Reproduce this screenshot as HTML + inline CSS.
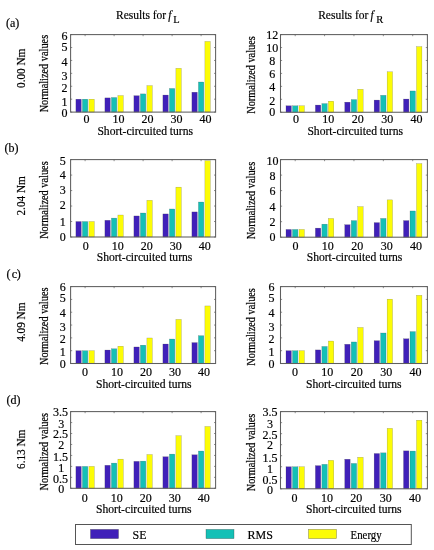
<!DOCTYPE html>
<html><head><meta charset="utf-8"><style>
html,body{margin:0;padding:0;background:#fff;}
body{width:434px;height:550px;overflow:hidden;}
svg{display:block;will-change:transform;}
text{font-family:"Liberation Serif", serif;fill:#000;stroke:#000;stroke-width:0.18px;}
.tk{font-size:12px;}
.xl{font-size:11.6px;}
.yl{font-size:11px;}
.rl{font-size:12px;}
.tq{font-size:12px;}
.ti{font-size:11.5px;}
.lg{font-size:12px;}
</style></head><body>
<svg width="434" height="550" viewBox="0 0 434 550">
<rect width="434" height="550" fill="#fff"/>
<line x1="85.10" y1="112.1" x2="85.10" y2="110.5" stroke="#5e5e5e" stroke-width="0.7"/>
<line x1="114.10" y1="112.1" x2="114.10" y2="110.5" stroke="#5e5e5e" stroke-width="0.7"/>
<line x1="143.10" y1="112.1" x2="143.10" y2="110.5" stroke="#5e5e5e" stroke-width="0.7"/>
<line x1="172.10" y1="112.1" x2="172.10" y2="110.5" stroke="#5e5e5e" stroke-width="0.7"/>
<line x1="201.10" y1="112.1" x2="201.10" y2="110.5" stroke="#5e5e5e" stroke-width="0.7"/>
<rect x="75.90" y="99.18" width="5.4" height="12.92" fill="#4020b9" stroke="#333" stroke-width="0.35" stroke-opacity="0.5"/>
<rect x="82.40" y="99.18" width="5.4" height="12.92" fill="#14c0b6" stroke="#333" stroke-width="0.35" stroke-opacity="0.5"/>
<rect x="88.90" y="99.18" width="5.4" height="12.92" fill="#fcfc06" stroke="#333" stroke-width="0.35" stroke-opacity="0.5"/>
<rect x="104.90" y="97.89" width="5.4" height="14.21" fill="#4020b9" stroke="#333" stroke-width="0.35" stroke-opacity="0.5"/>
<rect x="111.40" y="97.50" width="5.4" height="14.60" fill="#14c0b6" stroke="#333" stroke-width="0.35" stroke-opacity="0.5"/>
<rect x="117.90" y="95.57" width="5.4" height="16.53" fill="#fcfc06" stroke="#333" stroke-width="0.35" stroke-opacity="0.5"/>
<rect x="133.90" y="95.70" width="5.4" height="16.40" fill="#4020b9" stroke="#333" stroke-width="0.35" stroke-opacity="0.5"/>
<rect x="140.40" y="93.89" width="5.4" height="18.21" fill="#14c0b6" stroke="#333" stroke-width="0.35" stroke-opacity="0.5"/>
<rect x="146.90" y="85.62" width="5.4" height="26.48" fill="#fcfc06" stroke="#333" stroke-width="0.35" stroke-opacity="0.5"/>
<rect x="162.90" y="95.05" width="5.4" height="17.05" fill="#4020b9" stroke="#333" stroke-width="0.35" stroke-opacity="0.5"/>
<rect x="169.40" y="88.46" width="5.4" height="23.64" fill="#14c0b6" stroke="#333" stroke-width="0.35" stroke-opacity="0.5"/>
<rect x="175.90" y="68.31" width="5.4" height="43.79" fill="#fcfc06" stroke="#333" stroke-width="0.35" stroke-opacity="0.5"/>
<rect x="191.90" y="92.21" width="5.4" height="19.89" fill="#4020b9" stroke="#333" stroke-width="0.35" stroke-opacity="0.5"/>
<rect x="198.40" y="82.00" width="5.4" height="30.10" fill="#14c0b6" stroke="#333" stroke-width="0.35" stroke-opacity="0.5"/>
<rect x="204.90" y="41.45" width="5.4" height="70.65" fill="#fcfc06" stroke="#333" stroke-width="0.35" stroke-opacity="0.5"/>
<rect x="70.6" y="34.6" width="145.00" height="77.50" fill="none" stroke="#5e5e5e" stroke-width="1.05"/>
<line x1="70.6" y1="112.10" x2="72.19999999999999" y2="112.10" stroke="#5e5e5e" stroke-width="0.7"/>
<line x1="215.6" y1="112.10" x2="214.0" y2="112.10" stroke="#5e5e5e" stroke-width="0.7"/>
<text x="64.50" y="117.05" class="tk" text-anchor="middle">0</text>
<line x1="70.6" y1="99.18" x2="72.19999999999999" y2="99.18" stroke="#5e5e5e" stroke-width="0.7"/>
<line x1="215.6" y1="99.18" x2="214.0" y2="99.18" stroke="#5e5e5e" stroke-width="0.7"/>
<text x="64.50" y="105.98" class="tk" text-anchor="middle">1</text>
<line x1="70.6" y1="86.27" x2="72.19999999999999" y2="86.27" stroke="#5e5e5e" stroke-width="0.7"/>
<line x1="215.6" y1="86.27" x2="214.0" y2="86.27" stroke="#5e5e5e" stroke-width="0.7"/>
<text x="64.50" y="91.77" class="tk" text-anchor="middle">2</text>
<line x1="70.6" y1="73.35" x2="72.19999999999999" y2="73.35" stroke="#5e5e5e" stroke-width="0.7"/>
<line x1="215.6" y1="73.35" x2="214.0" y2="73.35" stroke="#5e5e5e" stroke-width="0.7"/>
<text x="64.50" y="80.35" class="tk" text-anchor="middle">3</text>
<line x1="70.6" y1="60.43" x2="72.19999999999999" y2="60.43" stroke="#5e5e5e" stroke-width="0.7"/>
<line x1="215.6" y1="60.43" x2="214.0" y2="60.43" stroke="#5e5e5e" stroke-width="0.7"/>
<text x="64.50" y="66.33" class="tk" text-anchor="middle">4</text>
<line x1="70.6" y1="47.52" x2="72.19999999999999" y2="47.52" stroke="#5e5e5e" stroke-width="0.7"/>
<line x1="215.6" y1="47.52" x2="214.0" y2="47.52" stroke="#5e5e5e" stroke-width="0.7"/>
<text x="64.50" y="51.42" class="tk" text-anchor="middle">5</text>
<line x1="70.6" y1="34.60" x2="72.19999999999999" y2="34.60" stroke="#5e5e5e" stroke-width="0.7"/>
<line x1="215.6" y1="34.60" x2="214.0" y2="34.60" stroke="#5e5e5e" stroke-width="0.7"/>
<text x="64.50" y="40.40" class="tk" text-anchor="middle">6</text>
<line x1="85.10" y1="34.6" x2="85.10" y2="36.2" stroke="#5e5e5e" stroke-width="0.7"/>
<text x="83.40" y="123.20" class="tk">0</text>
<line x1="114.10" y1="34.6" x2="114.10" y2="36.2" stroke="#5e5e5e" stroke-width="0.7"/>
<text x="112.40" y="123.20" class="tk">10</text>
<line x1="143.10" y1="34.6" x2="143.10" y2="36.2" stroke="#5e5e5e" stroke-width="0.7"/>
<text x="141.40" y="123.20" class="tk">20</text>
<line x1="172.10" y1="34.6" x2="172.10" y2="36.2" stroke="#5e5e5e" stroke-width="0.7"/>
<text x="170.40" y="123.20" class="tk">30</text>
<line x1="201.10" y1="34.6" x2="201.10" y2="36.2" stroke="#5e5e5e" stroke-width="0.7"/>
<text x="199.40" y="123.20" class="tk">40</text>
<text x="97.40" y="135.00" class="xl">Short-circuited turns</text>
<text transform="translate(47.90,73.60) rotate(-90) scale(1,1.15)" class="yl" text-anchor="middle" textLength="77.5" lengthAdjust="spacingAndGlyphs">Normalized values</text>
<line x1="295.19" y1="112.25" x2="295.19" y2="110.65" stroke="#5e5e5e" stroke-width="0.7"/>
<line x1="324.57" y1="112.25" x2="324.57" y2="110.65" stroke="#5e5e5e" stroke-width="0.7"/>
<line x1="353.95" y1="112.25" x2="353.95" y2="110.65" stroke="#5e5e5e" stroke-width="0.7"/>
<line x1="383.33" y1="112.25" x2="383.33" y2="110.65" stroke="#5e5e5e" stroke-width="0.7"/>
<line x1="412.71" y1="112.25" x2="412.71" y2="110.65" stroke="#5e5e5e" stroke-width="0.7"/>
<rect x="285.99" y="105.78" width="5.4" height="6.47" fill="#4020b9" stroke="#333" stroke-width="0.35" stroke-opacity="0.5"/>
<rect x="292.49" y="105.78" width="5.4" height="6.47" fill="#14c0b6" stroke="#333" stroke-width="0.35" stroke-opacity="0.5"/>
<rect x="298.99" y="105.78" width="5.4" height="6.47" fill="#fcfc06" stroke="#333" stroke-width="0.35" stroke-opacity="0.5"/>
<rect x="315.37" y="105.07" width="5.4" height="7.18" fill="#4020b9" stroke="#333" stroke-width="0.35" stroke-opacity="0.5"/>
<rect x="321.87" y="103.58" width="5.4" height="8.67" fill="#14c0b6" stroke="#333" stroke-width="0.35" stroke-opacity="0.5"/>
<rect x="328.37" y="101.18" width="5.4" height="11.07" fill="#fcfc06" stroke="#333" stroke-width="0.35" stroke-opacity="0.5"/>
<rect x="344.75" y="102.16" width="5.4" height="10.09" fill="#4020b9" stroke="#333" stroke-width="0.35" stroke-opacity="0.5"/>
<rect x="351.25" y="99.57" width="5.4" height="12.68" fill="#14c0b6" stroke="#333" stroke-width="0.35" stroke-opacity="0.5"/>
<rect x="357.75" y="89.28" width="5.4" height="22.97" fill="#fcfc06" stroke="#333" stroke-width="0.35" stroke-opacity="0.5"/>
<rect x="374.13" y="100.08" width="5.4" height="12.17" fill="#4020b9" stroke="#333" stroke-width="0.35" stroke-opacity="0.5"/>
<rect x="380.63" y="95.30" width="5.4" height="16.95" fill="#14c0b6" stroke="#333" stroke-width="0.35" stroke-opacity="0.5"/>
<rect x="387.13" y="71.81" width="5.4" height="40.44" fill="#fcfc06" stroke="#333" stroke-width="0.35" stroke-opacity="0.5"/>
<rect x="403.51" y="99.05" width="5.4" height="13.20" fill="#4020b9" stroke="#333" stroke-width="0.35" stroke-opacity="0.5"/>
<rect x="410.01" y="90.96" width="5.4" height="21.29" fill="#14c0b6" stroke="#333" stroke-width="0.35" stroke-opacity="0.5"/>
<rect x="416.51" y="46.64" width="5.4" height="65.61" fill="#fcfc06" stroke="#333" stroke-width="0.35" stroke-opacity="0.5"/>
<rect x="280.5" y="34.6" width="146.90" height="77.65" fill="none" stroke="#5e5e5e" stroke-width="1.05"/>
<line x1="280.5" y1="112.25" x2="282.1" y2="112.25" stroke="#5e5e5e" stroke-width="0.7"/>
<line x1="427.4" y1="112.25" x2="425.79999999999995" y2="112.25" stroke="#5e5e5e" stroke-width="0.7"/>
<text x="272.20" y="116.45" class="tk" text-anchor="middle">0</text>
<line x1="280.5" y1="99.31" x2="282.1" y2="99.31" stroke="#5e5e5e" stroke-width="0.7"/>
<line x1="427.4" y1="99.31" x2="425.79999999999995" y2="99.31" stroke="#5e5e5e" stroke-width="0.7"/>
<text x="272.20" y="104.76" class="tk" text-anchor="middle">2</text>
<line x1="280.5" y1="86.37" x2="282.1" y2="86.37" stroke="#5e5e5e" stroke-width="0.7"/>
<line x1="427.4" y1="86.37" x2="425.79999999999995" y2="86.37" stroke="#5e5e5e" stroke-width="0.7"/>
<text x="272.20" y="91.07" class="tk" text-anchor="middle">4</text>
<line x1="280.5" y1="73.42" x2="282.1" y2="73.42" stroke="#5e5e5e" stroke-width="0.7"/>
<line x1="427.4" y1="73.42" x2="425.79999999999995" y2="73.42" stroke="#5e5e5e" stroke-width="0.7"/>
<text x="272.20" y="77.98" class="tk" text-anchor="middle">6</text>
<line x1="280.5" y1="60.48" x2="282.1" y2="60.48" stroke="#5e5e5e" stroke-width="0.7"/>
<line x1="427.4" y1="60.48" x2="425.79999999999995" y2="60.48" stroke="#5e5e5e" stroke-width="0.7"/>
<text x="272.20" y="65.28" class="tk" text-anchor="middle">8</text>
<line x1="280.5" y1="47.54" x2="282.1" y2="47.54" stroke="#5e5e5e" stroke-width="0.7"/>
<line x1="427.4" y1="47.54" x2="425.79999999999995" y2="47.54" stroke="#5e5e5e" stroke-width="0.7"/>
<text x="272.20" y="51.79" class="tk" text-anchor="middle">10</text>
<line x1="280.5" y1="34.60" x2="282.1" y2="34.60" stroke="#5e5e5e" stroke-width="0.7"/>
<line x1="427.4" y1="34.60" x2="425.79999999999995" y2="34.60" stroke="#5e5e5e" stroke-width="0.7"/>
<text x="272.20" y="39.40" class="tk" text-anchor="middle">12</text>
<line x1="295.19" y1="34.6" x2="295.19" y2="36.2" stroke="#5e5e5e" stroke-width="0.7"/>
<text x="292.99" y="123.20" class="tk">0</text>
<line x1="324.57" y1="34.6" x2="324.57" y2="36.2" stroke="#5e5e5e" stroke-width="0.7"/>
<text x="322.37" y="123.20" class="tk">10</text>
<line x1="353.95" y1="34.6" x2="353.95" y2="36.2" stroke="#5e5e5e" stroke-width="0.7"/>
<text x="351.75" y="123.20" class="tk">20</text>
<line x1="383.33" y1="34.6" x2="383.33" y2="36.2" stroke="#5e5e5e" stroke-width="0.7"/>
<text x="381.13" y="123.20" class="tk">30</text>
<line x1="412.71" y1="34.6" x2="412.71" y2="36.2" stroke="#5e5e5e" stroke-width="0.7"/>
<text x="410.51" y="123.20" class="tk">40</text>
<text x="307.40" y="135.00" class="xl">Short-circuited turns</text>
<text transform="translate(254.60,75.00) rotate(-90) scale(1,1.15)" class="yl" text-anchor="middle" textLength="77.5" lengthAdjust="spacingAndGlyphs">Normalized values</text>
<line x1="85.10" y1="237.0" x2="85.10" y2="235.4" stroke="#5e5e5e" stroke-width="0.7"/>
<line x1="114.10" y1="237.0" x2="114.10" y2="235.4" stroke="#5e5e5e" stroke-width="0.7"/>
<line x1="143.10" y1="237.0" x2="143.10" y2="235.4" stroke="#5e5e5e" stroke-width="0.7"/>
<line x1="172.10" y1="237.0" x2="172.10" y2="235.4" stroke="#5e5e5e" stroke-width="0.7"/>
<line x1="201.10" y1="237.0" x2="201.10" y2="235.4" stroke="#5e5e5e" stroke-width="0.7"/>
<rect x="75.90" y="221.52" width="5.4" height="15.48" fill="#4020b9" stroke="#333" stroke-width="0.35" stroke-opacity="0.5"/>
<rect x="82.40" y="221.52" width="5.4" height="15.48" fill="#14c0b6" stroke="#333" stroke-width="0.35" stroke-opacity="0.5"/>
<rect x="88.90" y="221.52" width="5.4" height="15.48" fill="#fcfc06" stroke="#333" stroke-width="0.35" stroke-opacity="0.5"/>
<rect x="104.90" y="220.28" width="5.4" height="16.72" fill="#4020b9" stroke="#333" stroke-width="0.35" stroke-opacity="0.5"/>
<rect x="111.40" y="218.11" width="5.4" height="18.89" fill="#14c0b6" stroke="#333" stroke-width="0.35" stroke-opacity="0.5"/>
<rect x="117.90" y="215.02" width="5.4" height="21.98" fill="#fcfc06" stroke="#333" stroke-width="0.35" stroke-opacity="0.5"/>
<rect x="133.90" y="215.95" width="5.4" height="21.05" fill="#4020b9" stroke="#333" stroke-width="0.35" stroke-opacity="0.5"/>
<rect x="140.40" y="213.01" width="5.4" height="23.99" fill="#14c0b6" stroke="#333" stroke-width="0.35" stroke-opacity="0.5"/>
<rect x="146.90" y="200.31" width="5.4" height="36.69" fill="#fcfc06" stroke="#333" stroke-width="0.35" stroke-opacity="0.5"/>
<rect x="162.90" y="213.93" width="5.4" height="23.07" fill="#4020b9" stroke="#333" stroke-width="0.35" stroke-opacity="0.5"/>
<rect x="169.40" y="208.98" width="5.4" height="28.02" fill="#14c0b6" stroke="#333" stroke-width="0.35" stroke-opacity="0.5"/>
<rect x="175.90" y="187.15" width="5.4" height="49.85" fill="#fcfc06" stroke="#333" stroke-width="0.35" stroke-opacity="0.5"/>
<rect x="191.90" y="211.92" width="5.4" height="25.08" fill="#4020b9" stroke="#333" stroke-width="0.35" stroke-opacity="0.5"/>
<rect x="198.40" y="202.02" width="5.4" height="34.98" fill="#14c0b6" stroke="#333" stroke-width="0.35" stroke-opacity="0.5"/>
<rect x="204.90" y="160.68" width="5.4" height="76.32" fill="#fcfc06" stroke="#333" stroke-width="0.35" stroke-opacity="0.5"/>
<rect x="70.6" y="159.6" width="145.00" height="77.40" fill="none" stroke="#5e5e5e" stroke-width="1.05"/>
<line x1="70.6" y1="237.00" x2="72.19999999999999" y2="237.00" stroke="#5e5e5e" stroke-width="0.7"/>
<line x1="215.6" y1="237.00" x2="214.0" y2="237.00" stroke="#5e5e5e" stroke-width="0.7"/>
<text x="62.80" y="240.85" class="tk" text-anchor="middle">0</text>
<line x1="70.6" y1="221.52" x2="72.19999999999999" y2="221.52" stroke="#5e5e5e" stroke-width="0.7"/>
<line x1="215.6" y1="221.52" x2="214.0" y2="221.52" stroke="#5e5e5e" stroke-width="0.7"/>
<text x="62.80" y="226.12" class="tk" text-anchor="middle">1</text>
<line x1="70.6" y1="206.04" x2="72.19999999999999" y2="206.04" stroke="#5e5e5e" stroke-width="0.7"/>
<line x1="215.6" y1="206.04" x2="214.0" y2="206.04" stroke="#5e5e5e" stroke-width="0.7"/>
<text x="62.80" y="208.59" class="tk" text-anchor="middle">2</text>
<line x1="70.6" y1="190.56" x2="72.19999999999999" y2="190.56" stroke="#5e5e5e" stroke-width="0.7"/>
<line x1="215.6" y1="190.56" x2="214.0" y2="190.56" stroke="#5e5e5e" stroke-width="0.7"/>
<text x="62.80" y="194.06" class="tk" text-anchor="middle">3</text>
<line x1="70.6" y1="175.08" x2="72.19999999999999" y2="175.08" stroke="#5e5e5e" stroke-width="0.7"/>
<line x1="215.6" y1="175.08" x2="214.0" y2="175.08" stroke="#5e5e5e" stroke-width="0.7"/>
<text x="62.80" y="179.28" class="tk" text-anchor="middle">4</text>
<line x1="70.6" y1="159.60" x2="72.19999999999999" y2="159.60" stroke="#5e5e5e" stroke-width="0.7"/>
<line x1="215.6" y1="159.60" x2="214.0" y2="159.60" stroke="#5e5e5e" stroke-width="0.7"/>
<text x="62.80" y="164.60" class="tk" text-anchor="middle">5</text>
<line x1="85.10" y1="159.6" x2="85.10" y2="161.2" stroke="#5e5e5e" stroke-width="0.7"/>
<text x="82.70" y="249.80" class="tk">0</text>
<line x1="114.10" y1="159.6" x2="114.10" y2="161.2" stroke="#5e5e5e" stroke-width="0.7"/>
<text x="111.70" y="249.80" class="tk">10</text>
<line x1="143.10" y1="159.6" x2="143.10" y2="161.2" stroke="#5e5e5e" stroke-width="0.7"/>
<text x="140.70" y="249.80" class="tk">20</text>
<line x1="172.10" y1="159.6" x2="172.10" y2="161.2" stroke="#5e5e5e" stroke-width="0.7"/>
<text x="169.70" y="249.80" class="tk">30</text>
<line x1="201.10" y1="159.6" x2="201.10" y2="161.2" stroke="#5e5e5e" stroke-width="0.7"/>
<text x="198.70" y="249.80" class="tk">40</text>
<text x="96.70" y="260.60" class="xl">Short-circuited turns</text>
<text transform="translate(47.90,200.10) rotate(-90) scale(1,1.15)" class="yl" text-anchor="middle" textLength="77.5" lengthAdjust="spacingAndGlyphs">Normalized values</text>
<line x1="295.19" y1="237.2" x2="295.19" y2="235.6" stroke="#5e5e5e" stroke-width="0.7"/>
<line x1="324.57" y1="237.2" x2="324.57" y2="235.6" stroke="#5e5e5e" stroke-width="0.7"/>
<line x1="353.95" y1="237.2" x2="353.95" y2="235.6" stroke="#5e5e5e" stroke-width="0.7"/>
<line x1="383.33" y1="237.2" x2="383.33" y2="235.6" stroke="#5e5e5e" stroke-width="0.7"/>
<line x1="412.71" y1="237.2" x2="412.71" y2="235.6" stroke="#5e5e5e" stroke-width="0.7"/>
<rect x="285.99" y="229.44" width="5.4" height="7.76" fill="#4020b9" stroke="#333" stroke-width="0.35" stroke-opacity="0.5"/>
<rect x="292.49" y="229.44" width="5.4" height="7.76" fill="#14c0b6" stroke="#333" stroke-width="0.35" stroke-opacity="0.5"/>
<rect x="298.99" y="229.44" width="5.4" height="7.76" fill="#fcfc06" stroke="#333" stroke-width="0.35" stroke-opacity="0.5"/>
<rect x="315.37" y="228.12" width="5.4" height="9.08" fill="#4020b9" stroke="#333" stroke-width="0.35" stroke-opacity="0.5"/>
<rect x="321.87" y="224.16" width="5.4" height="13.04" fill="#14c0b6" stroke="#333" stroke-width="0.35" stroke-opacity="0.5"/>
<rect x="328.37" y="218.50" width="5.4" height="18.70" fill="#fcfc06" stroke="#333" stroke-width="0.35" stroke-opacity="0.5"/>
<rect x="344.75" y="224.71" width="5.4" height="12.49" fill="#4020b9" stroke="#333" stroke-width="0.35" stroke-opacity="0.5"/>
<rect x="351.25" y="220.59" width="5.4" height="16.61" fill="#14c0b6" stroke="#333" stroke-width="0.35" stroke-opacity="0.5"/>
<rect x="357.75" y="206.63" width="5.4" height="30.57" fill="#fcfc06" stroke="#333" stroke-width="0.35" stroke-opacity="0.5"/>
<rect x="374.13" y="222.61" width="5.4" height="14.59" fill="#4020b9" stroke="#333" stroke-width="0.35" stroke-opacity="0.5"/>
<rect x="380.63" y="218.42" width="5.4" height="18.78" fill="#14c0b6" stroke="#333" stroke-width="0.35" stroke-opacity="0.5"/>
<rect x="387.13" y="199.87" width="5.4" height="37.33" fill="#fcfc06" stroke="#333" stroke-width="0.35" stroke-opacity="0.5"/>
<rect x="403.51" y="220.59" width="5.4" height="16.61" fill="#4020b9" stroke="#333" stroke-width="0.35" stroke-opacity="0.5"/>
<rect x="410.01" y="210.97" width="5.4" height="26.23" fill="#14c0b6" stroke="#333" stroke-width="0.35" stroke-opacity="0.5"/>
<rect x="416.51" y="163.64" width="5.4" height="73.56" fill="#fcfc06" stroke="#333" stroke-width="0.35" stroke-opacity="0.5"/>
<rect x="280.5" y="159.6" width="146.90" height="77.60" fill="none" stroke="#5e5e5e" stroke-width="1.05"/>
<line x1="280.5" y1="237.20" x2="282.1" y2="237.20" stroke="#5e5e5e" stroke-width="0.7"/>
<line x1="427.4" y1="237.20" x2="425.79999999999995" y2="237.20" stroke="#5e5e5e" stroke-width="0.7"/>
<text x="272.40" y="241.30" class="tk" text-anchor="middle">0</text>
<line x1="280.5" y1="221.68" x2="282.1" y2="221.68" stroke="#5e5e5e" stroke-width="0.7"/>
<line x1="427.4" y1="221.68" x2="425.79999999999995" y2="221.68" stroke="#5e5e5e" stroke-width="0.7"/>
<text x="272.40" y="225.88" class="tk" text-anchor="middle">2</text>
<line x1="280.5" y1="206.16" x2="282.1" y2="206.16" stroke="#5e5e5e" stroke-width="0.7"/>
<line x1="427.4" y1="206.16" x2="425.79999999999995" y2="206.16" stroke="#5e5e5e" stroke-width="0.7"/>
<text x="272.40" y="211.11" class="tk" text-anchor="middle">4</text>
<line x1="280.5" y1="190.64" x2="282.1" y2="190.64" stroke="#5e5e5e" stroke-width="0.7"/>
<line x1="427.4" y1="190.64" x2="425.79999999999995" y2="190.64" stroke="#5e5e5e" stroke-width="0.7"/>
<text x="272.40" y="195.04" class="tk" text-anchor="middle">6</text>
<line x1="280.5" y1="175.12" x2="282.1" y2="175.12" stroke="#5e5e5e" stroke-width="0.7"/>
<line x1="427.4" y1="175.12" x2="425.79999999999995" y2="175.12" stroke="#5e5e5e" stroke-width="0.7"/>
<text x="272.40" y="180.12" class="tk" text-anchor="middle">8</text>
<line x1="280.5" y1="159.60" x2="282.1" y2="159.60" stroke="#5e5e5e" stroke-width="0.7"/>
<line x1="427.4" y1="159.60" x2="425.79999999999995" y2="159.60" stroke="#5e5e5e" stroke-width="0.7"/>
<text x="272.40" y="165.00" class="tk" text-anchor="middle">10</text>
<line x1="295.19" y1="159.6" x2="295.19" y2="161.2" stroke="#5e5e5e" stroke-width="0.7"/>
<text x="292.49" y="249.80" class="tk">0</text>
<line x1="324.57" y1="159.6" x2="324.57" y2="161.2" stroke="#5e5e5e" stroke-width="0.7"/>
<text x="321.87" y="249.80" class="tk">10</text>
<line x1="353.95" y1="159.6" x2="353.95" y2="161.2" stroke="#5e5e5e" stroke-width="0.7"/>
<text x="351.25" y="249.80" class="tk">20</text>
<line x1="383.33" y1="159.6" x2="383.33" y2="161.2" stroke="#5e5e5e" stroke-width="0.7"/>
<text x="380.63" y="249.80" class="tk">30</text>
<line x1="412.71" y1="159.6" x2="412.71" y2="161.2" stroke="#5e5e5e" stroke-width="0.7"/>
<text x="410.01" y="249.80" class="tk">40</text>
<text x="306.70" y="260.60" class="xl">Short-circuited turns</text>
<text transform="translate(254.60,200.60) rotate(-90) scale(1,1.15)" class="yl" text-anchor="middle" textLength="77.5" lengthAdjust="spacingAndGlyphs">Normalized values</text>
<line x1="85.10" y1="363.5" x2="85.10" y2="361.9" stroke="#5e5e5e" stroke-width="0.7"/>
<line x1="114.10" y1="363.5" x2="114.10" y2="361.9" stroke="#5e5e5e" stroke-width="0.7"/>
<line x1="143.10" y1="363.5" x2="143.10" y2="361.9" stroke="#5e5e5e" stroke-width="0.7"/>
<line x1="172.10" y1="363.5" x2="172.10" y2="361.9" stroke="#5e5e5e" stroke-width="0.7"/>
<line x1="201.10" y1="363.5" x2="201.10" y2="361.9" stroke="#5e5e5e" stroke-width="0.7"/>
<rect x="75.90" y="350.68" width="5.4" height="12.82" fill="#4020b9" stroke="#333" stroke-width="0.35" stroke-opacity="0.5"/>
<rect x="82.40" y="350.68" width="5.4" height="12.82" fill="#14c0b6" stroke="#333" stroke-width="0.35" stroke-opacity="0.5"/>
<rect x="88.90" y="350.68" width="5.4" height="12.82" fill="#fcfc06" stroke="#333" stroke-width="0.35" stroke-opacity="0.5"/>
<rect x="104.90" y="350.04" width="5.4" height="13.46" fill="#4020b9" stroke="#333" stroke-width="0.35" stroke-opacity="0.5"/>
<rect x="111.40" y="348.76" width="5.4" height="14.74" fill="#14c0b6" stroke="#333" stroke-width="0.35" stroke-opacity="0.5"/>
<rect x="117.90" y="346.20" width="5.4" height="17.30" fill="#fcfc06" stroke="#333" stroke-width="0.35" stroke-opacity="0.5"/>
<rect x="133.90" y="346.97" width="5.4" height="16.53" fill="#4020b9" stroke="#333" stroke-width="0.35" stroke-opacity="0.5"/>
<rect x="140.40" y="345.17" width="5.4" height="18.33" fill="#14c0b6" stroke="#333" stroke-width="0.35" stroke-opacity="0.5"/>
<rect x="146.90" y="337.99" width="5.4" height="25.51" fill="#fcfc06" stroke="#333" stroke-width="0.35" stroke-opacity="0.5"/>
<rect x="162.90" y="344.02" width="5.4" height="19.48" fill="#4020b9" stroke="#333" stroke-width="0.35" stroke-opacity="0.5"/>
<rect x="169.40" y="339.02" width="5.4" height="24.48" fill="#14c0b6" stroke="#333" stroke-width="0.35" stroke-opacity="0.5"/>
<rect x="175.90" y="319.41" width="5.4" height="44.09" fill="#fcfc06" stroke="#333" stroke-width="0.35" stroke-opacity="0.5"/>
<rect x="191.90" y="342.61" width="5.4" height="20.89" fill="#4020b9" stroke="#333" stroke-width="0.35" stroke-opacity="0.5"/>
<rect x="198.40" y="335.69" width="5.4" height="27.81" fill="#14c0b6" stroke="#333" stroke-width="0.35" stroke-opacity="0.5"/>
<rect x="204.90" y="305.95" width="5.4" height="57.55" fill="#fcfc06" stroke="#333" stroke-width="0.35" stroke-opacity="0.5"/>
<rect x="70.6" y="286.6" width="145.00" height="76.90" fill="none" stroke="#5e5e5e" stroke-width="1.05"/>
<line x1="70.6" y1="363.50" x2="72.19999999999999" y2="363.50" stroke="#5e5e5e" stroke-width="0.7"/>
<line x1="215.6" y1="363.50" x2="214.0" y2="363.50" stroke="#5e5e5e" stroke-width="0.7"/>
<text x="62.70" y="367.90" class="tk" text-anchor="middle">0</text>
<line x1="70.6" y1="350.68" x2="72.19999999999999" y2="350.68" stroke="#5e5e5e" stroke-width="0.7"/>
<line x1="215.6" y1="350.68" x2="214.0" y2="350.68" stroke="#5e5e5e" stroke-width="0.7"/>
<text x="62.70" y="356.48" class="tk" text-anchor="middle">1</text>
<line x1="70.6" y1="337.87" x2="72.19999999999999" y2="337.87" stroke="#5e5e5e" stroke-width="0.7"/>
<line x1="215.6" y1="337.87" x2="214.0" y2="337.87" stroke="#5e5e5e" stroke-width="0.7"/>
<text x="62.70" y="342.67" class="tk" text-anchor="middle">2</text>
<line x1="70.6" y1="325.05" x2="72.19999999999999" y2="325.05" stroke="#5e5e5e" stroke-width="0.7"/>
<line x1="215.6" y1="325.05" x2="214.0" y2="325.05" stroke="#5e5e5e" stroke-width="0.7"/>
<text x="62.70" y="330.70" class="tk" text-anchor="middle">3</text>
<line x1="70.6" y1="312.23" x2="72.19999999999999" y2="312.23" stroke="#5e5e5e" stroke-width="0.7"/>
<line x1="215.6" y1="312.23" x2="214.0" y2="312.23" stroke="#5e5e5e" stroke-width="0.7"/>
<text x="62.70" y="316.53" class="tk" text-anchor="middle">4</text>
<line x1="70.6" y1="299.42" x2="72.19999999999999" y2="299.42" stroke="#5e5e5e" stroke-width="0.7"/>
<line x1="215.6" y1="299.42" x2="214.0" y2="299.42" stroke="#5e5e5e" stroke-width="0.7"/>
<text x="62.70" y="302.02" class="tk" text-anchor="middle">5</text>
<line x1="70.6" y1="286.60" x2="72.19999999999999" y2="286.60" stroke="#5e5e5e" stroke-width="0.7"/>
<line x1="215.6" y1="286.60" x2="214.0" y2="286.60" stroke="#5e5e5e" stroke-width="0.7"/>
<text x="62.70" y="291.10" class="tk" text-anchor="middle">6</text>
<line x1="85.10" y1="286.6" x2="85.10" y2="288.20000000000005" stroke="#5e5e5e" stroke-width="0.7"/>
<text x="82.00" y="376.30" class="tk">0</text>
<line x1="114.10" y1="286.6" x2="114.10" y2="288.20000000000005" stroke="#5e5e5e" stroke-width="0.7"/>
<text x="111.00" y="376.30" class="tk">10</text>
<line x1="143.10" y1="286.6" x2="143.10" y2="288.20000000000005" stroke="#5e5e5e" stroke-width="0.7"/>
<text x="140.00" y="376.30" class="tk">20</text>
<line x1="172.10" y1="286.6" x2="172.10" y2="288.20000000000005" stroke="#5e5e5e" stroke-width="0.7"/>
<text x="169.00" y="376.30" class="tk">30</text>
<line x1="201.10" y1="286.6" x2="201.10" y2="288.20000000000005" stroke="#5e5e5e" stroke-width="0.7"/>
<text x="198.00" y="376.30" class="tk">40</text>
<text x="96.00" y="387.60" class="xl">Short-circuited turns</text>
<text transform="translate(47.90,326.30) rotate(-90) scale(1,1.15)" class="yl" text-anchor="middle" textLength="77.5" lengthAdjust="spacingAndGlyphs">Normalized values</text>
<line x1="295.19" y1="363.5" x2="295.19" y2="361.9" stroke="#5e5e5e" stroke-width="0.7"/>
<line x1="324.57" y1="363.5" x2="324.57" y2="361.9" stroke="#5e5e5e" stroke-width="0.7"/>
<line x1="353.95" y1="363.5" x2="353.95" y2="361.9" stroke="#5e5e5e" stroke-width="0.7"/>
<line x1="383.33" y1="363.5" x2="383.33" y2="361.9" stroke="#5e5e5e" stroke-width="0.7"/>
<line x1="412.71" y1="363.5" x2="412.71" y2="361.9" stroke="#5e5e5e" stroke-width="0.7"/>
<rect x="285.99" y="350.68" width="5.4" height="12.82" fill="#4020b9" stroke="#333" stroke-width="0.35" stroke-opacity="0.5"/>
<rect x="292.49" y="350.68" width="5.4" height="12.82" fill="#14c0b6" stroke="#333" stroke-width="0.35" stroke-opacity="0.5"/>
<rect x="298.99" y="350.68" width="5.4" height="12.82" fill="#fcfc06" stroke="#333" stroke-width="0.35" stroke-opacity="0.5"/>
<rect x="315.37" y="349.91" width="5.4" height="13.59" fill="#4020b9" stroke="#333" stroke-width="0.35" stroke-opacity="0.5"/>
<rect x="321.87" y="346.45" width="5.4" height="17.05" fill="#14c0b6" stroke="#333" stroke-width="0.35" stroke-opacity="0.5"/>
<rect x="328.37" y="341.07" width="5.4" height="22.43" fill="#fcfc06" stroke="#333" stroke-width="0.35" stroke-opacity="0.5"/>
<rect x="344.75" y="344.27" width="5.4" height="19.23" fill="#4020b9" stroke="#333" stroke-width="0.35" stroke-opacity="0.5"/>
<rect x="351.25" y="341.97" width="5.4" height="21.53" fill="#14c0b6" stroke="#333" stroke-width="0.35" stroke-opacity="0.5"/>
<rect x="357.75" y="327.49" width="5.4" height="36.01" fill="#fcfc06" stroke="#333" stroke-width="0.35" stroke-opacity="0.5"/>
<rect x="374.13" y="340.69" width="5.4" height="22.81" fill="#4020b9" stroke="#333" stroke-width="0.35" stroke-opacity="0.5"/>
<rect x="380.63" y="333.00" width="5.4" height="30.50" fill="#14c0b6" stroke="#333" stroke-width="0.35" stroke-opacity="0.5"/>
<rect x="387.13" y="299.16" width="5.4" height="64.34" fill="#fcfc06" stroke="#333" stroke-width="0.35" stroke-opacity="0.5"/>
<rect x="403.51" y="338.76" width="5.4" height="24.74" fill="#4020b9" stroke="#333" stroke-width="0.35" stroke-opacity="0.5"/>
<rect x="410.01" y="331.59" width="5.4" height="31.91" fill="#14c0b6" stroke="#333" stroke-width="0.35" stroke-opacity="0.5"/>
<rect x="416.51" y="295.32" width="5.4" height="68.18" fill="#fcfc06" stroke="#333" stroke-width="0.35" stroke-opacity="0.5"/>
<rect x="280.5" y="286.6" width="146.90" height="76.90" fill="none" stroke="#5e5e5e" stroke-width="1.05"/>
<line x1="280.5" y1="363.50" x2="282.1" y2="363.50" stroke="#5e5e5e" stroke-width="0.7"/>
<line x1="427.4" y1="363.50" x2="425.79999999999995" y2="363.50" stroke="#5e5e5e" stroke-width="0.7"/>
<text x="271.50" y="367.90" class="tk" text-anchor="middle">0</text>
<line x1="280.5" y1="350.68" x2="282.1" y2="350.68" stroke="#5e5e5e" stroke-width="0.7"/>
<line x1="427.4" y1="350.68" x2="425.79999999999995" y2="350.68" stroke="#5e5e5e" stroke-width="0.7"/>
<text x="271.50" y="356.48" class="tk" text-anchor="middle">1</text>
<line x1="280.5" y1="337.87" x2="282.1" y2="337.87" stroke="#5e5e5e" stroke-width="0.7"/>
<line x1="427.4" y1="337.87" x2="425.79999999999995" y2="337.87" stroke="#5e5e5e" stroke-width="0.7"/>
<text x="271.50" y="342.67" class="tk" text-anchor="middle">2</text>
<line x1="280.5" y1="325.05" x2="282.1" y2="325.05" stroke="#5e5e5e" stroke-width="0.7"/>
<line x1="427.4" y1="325.05" x2="425.79999999999995" y2="325.05" stroke="#5e5e5e" stroke-width="0.7"/>
<text x="271.50" y="330.70" class="tk" text-anchor="middle">3</text>
<line x1="280.5" y1="312.23" x2="282.1" y2="312.23" stroke="#5e5e5e" stroke-width="0.7"/>
<line x1="427.4" y1="312.23" x2="425.79999999999995" y2="312.23" stroke="#5e5e5e" stroke-width="0.7"/>
<text x="271.50" y="316.53" class="tk" text-anchor="middle">4</text>
<line x1="280.5" y1="299.42" x2="282.1" y2="299.42" stroke="#5e5e5e" stroke-width="0.7"/>
<line x1="427.4" y1="299.42" x2="425.79999999999995" y2="299.42" stroke="#5e5e5e" stroke-width="0.7"/>
<text x="271.50" y="302.02" class="tk" text-anchor="middle">5</text>
<line x1="280.5" y1="286.60" x2="282.1" y2="286.60" stroke="#5e5e5e" stroke-width="0.7"/>
<line x1="427.4" y1="286.60" x2="425.79999999999995" y2="286.60" stroke="#5e5e5e" stroke-width="0.7"/>
<text x="271.50" y="291.10" class="tk" text-anchor="middle">6</text>
<line x1="295.19" y1="286.6" x2="295.19" y2="288.20000000000005" stroke="#5e5e5e" stroke-width="0.7"/>
<text x="291.99" y="376.30" class="tk">0</text>
<line x1="324.57" y1="286.6" x2="324.57" y2="288.20000000000005" stroke="#5e5e5e" stroke-width="0.7"/>
<text x="321.37" y="376.30" class="tk">10</text>
<line x1="353.95" y1="286.6" x2="353.95" y2="288.20000000000005" stroke="#5e5e5e" stroke-width="0.7"/>
<text x="350.75" y="376.30" class="tk">20</text>
<line x1="383.33" y1="286.6" x2="383.33" y2="288.20000000000005" stroke="#5e5e5e" stroke-width="0.7"/>
<text x="380.13" y="376.30" class="tk">30</text>
<line x1="412.71" y1="286.6" x2="412.71" y2="288.20000000000005" stroke="#5e5e5e" stroke-width="0.7"/>
<text x="409.51" y="376.30" class="tk">40</text>
<text x="306.00" y="387.60" class="xl">Short-circuited turns</text>
<text transform="translate(254.60,326.90) rotate(-90) scale(1,1.15)" class="yl" text-anchor="middle" textLength="77.5" lengthAdjust="spacingAndGlyphs">Normalized values</text>
<line x1="85.10" y1="488.3" x2="85.10" y2="486.7" stroke="#5e5e5e" stroke-width="0.7"/>
<line x1="114.10" y1="488.3" x2="114.10" y2="486.7" stroke="#5e5e5e" stroke-width="0.7"/>
<line x1="143.10" y1="488.3" x2="143.10" y2="486.7" stroke="#5e5e5e" stroke-width="0.7"/>
<line x1="172.10" y1="488.3" x2="172.10" y2="486.7" stroke="#5e5e5e" stroke-width="0.7"/>
<line x1="201.10" y1="488.3" x2="201.10" y2="486.7" stroke="#5e5e5e" stroke-width="0.7"/>
<rect x="75.90" y="466.39" width="5.4" height="21.91" fill="#4020b9" stroke="#333" stroke-width="0.35" stroke-opacity="0.5"/>
<rect x="82.40" y="466.39" width="5.4" height="21.91" fill="#14c0b6" stroke="#333" stroke-width="0.35" stroke-opacity="0.5"/>
<rect x="88.90" y="466.39" width="5.4" height="21.91" fill="#fcfc06" stroke="#333" stroke-width="0.35" stroke-opacity="0.5"/>
<rect x="104.90" y="465.29" width="5.4" height="23.01" fill="#4020b9" stroke="#333" stroke-width="0.35" stroke-opacity="0.5"/>
<rect x="111.40" y="463.10" width="5.4" height="25.20" fill="#14c0b6" stroke="#333" stroke-width="0.35" stroke-opacity="0.5"/>
<rect x="117.90" y="459.15" width="5.4" height="29.15" fill="#fcfc06" stroke="#333" stroke-width="0.35" stroke-opacity="0.5"/>
<rect x="133.90" y="461.35" width="5.4" height="26.95" fill="#4020b9" stroke="#333" stroke-width="0.35" stroke-opacity="0.5"/>
<rect x="140.40" y="461.13" width="5.4" height="27.17" fill="#14c0b6" stroke="#333" stroke-width="0.35" stroke-opacity="0.5"/>
<rect x="146.90" y="454.55" width="5.4" height="33.75" fill="#fcfc06" stroke="#333" stroke-width="0.35" stroke-opacity="0.5"/>
<rect x="162.90" y="456.74" width="5.4" height="31.56" fill="#4020b9" stroke="#333" stroke-width="0.35" stroke-opacity="0.5"/>
<rect x="169.40" y="454.11" width="5.4" height="34.19" fill="#14c0b6" stroke="#333" stroke-width="0.35" stroke-opacity="0.5"/>
<rect x="175.90" y="435.71" width="5.4" height="52.59" fill="#fcfc06" stroke="#333" stroke-width="0.35" stroke-opacity="0.5"/>
<rect x="191.90" y="454.77" width="5.4" height="33.53" fill="#4020b9" stroke="#333" stroke-width="0.35" stroke-opacity="0.5"/>
<rect x="198.40" y="451.05" width="5.4" height="37.25" fill="#14c0b6" stroke="#333" stroke-width="0.35" stroke-opacity="0.5"/>
<rect x="204.90" y="426.50" width="5.4" height="61.80" fill="#fcfc06" stroke="#333" stroke-width="0.35" stroke-opacity="0.5"/>
<rect x="70.6" y="411.6" width="145.00" height="76.70" fill="none" stroke="#5e5e5e" stroke-width="1.05"/>
<line x1="70.6" y1="488.30" x2="72.19999999999999" y2="488.30" stroke="#5e5e5e" stroke-width="0.7"/>
<line x1="215.6" y1="488.30" x2="214.0" y2="488.30" stroke="#5e5e5e" stroke-width="0.7"/>
<text x="61.30" y="493.10" class="tk" text-anchor="middle">0</text>
<line x1="70.6" y1="477.34" x2="72.19999999999999" y2="477.34" stroke="#5e5e5e" stroke-width="0.7"/>
<line x1="215.6" y1="477.34" x2="214.0" y2="477.34" stroke="#5e5e5e" stroke-width="0.7"/>
<text x="60.50" y="482.74" class="tk" text-anchor="middle">0.5</text>
<line x1="70.6" y1="466.39" x2="72.19999999999999" y2="466.39" stroke="#5e5e5e" stroke-width="0.7"/>
<line x1="215.6" y1="466.39" x2="214.0" y2="466.39" stroke="#5e5e5e" stroke-width="0.7"/>
<text x="61.30" y="472.19" class="tk" text-anchor="middle">1</text>
<line x1="70.6" y1="455.43" x2="72.19999999999999" y2="455.43" stroke="#5e5e5e" stroke-width="0.7"/>
<line x1="215.6" y1="455.43" x2="214.0" y2="455.43" stroke="#5e5e5e" stroke-width="0.7"/>
<text x="60.50" y="461.03" class="tk" text-anchor="middle">1.5</text>
<line x1="70.6" y1="444.47" x2="72.19999999999999" y2="444.47" stroke="#5e5e5e" stroke-width="0.7"/>
<line x1="215.6" y1="444.47" x2="214.0" y2="444.47" stroke="#5e5e5e" stroke-width="0.7"/>
<text x="61.30" y="448.67" class="tk" text-anchor="middle">2</text>
<line x1="70.6" y1="433.51" x2="72.19999999999999" y2="433.51" stroke="#5e5e5e" stroke-width="0.7"/>
<line x1="215.6" y1="433.51" x2="214.0" y2="433.51" stroke="#5e5e5e" stroke-width="0.7"/>
<text x="60.50" y="437.71" class="tk" text-anchor="middle">2.5</text>
<line x1="70.6" y1="422.56" x2="72.19999999999999" y2="422.56" stroke="#5e5e5e" stroke-width="0.7"/>
<line x1="215.6" y1="422.56" x2="214.0" y2="422.56" stroke="#5e5e5e" stroke-width="0.7"/>
<text x="61.30" y="427.86" class="tk" text-anchor="middle">3</text>
<line x1="70.6" y1="411.60" x2="72.19999999999999" y2="411.60" stroke="#5e5e5e" stroke-width="0.7"/>
<line x1="215.6" y1="411.60" x2="214.0" y2="411.60" stroke="#5e5e5e" stroke-width="0.7"/>
<text x="60.50" y="416.00" class="tk" text-anchor="middle">3.5</text>
<line x1="85.10" y1="411.6" x2="85.10" y2="413.20000000000005" stroke="#5e5e5e" stroke-width="0.7"/>
<text x="81.80" y="502.20" class="tk">0</text>
<line x1="114.10" y1="411.6" x2="114.10" y2="413.20000000000005" stroke="#5e5e5e" stroke-width="0.7"/>
<text x="110.80" y="502.20" class="tk">10</text>
<line x1="143.10" y1="411.6" x2="143.10" y2="413.20000000000005" stroke="#5e5e5e" stroke-width="0.7"/>
<text x="139.80" y="502.20" class="tk">20</text>
<line x1="172.10" y1="411.6" x2="172.10" y2="413.20000000000005" stroke="#5e5e5e" stroke-width="0.7"/>
<text x="168.80" y="502.20" class="tk">30</text>
<line x1="201.10" y1="411.6" x2="201.10" y2="413.20000000000005" stroke="#5e5e5e" stroke-width="0.7"/>
<text x="197.80" y="502.20" class="tk">40</text>
<text x="96.00" y="512.80" class="xl">Short-circuited turns</text>
<text transform="translate(47.90,451.70) rotate(-90) scale(1,1.15)" class="yl" text-anchor="middle" textLength="77.5" lengthAdjust="spacingAndGlyphs">Normalized values</text>
<line x1="295.19" y1="488.8" x2="295.19" y2="487.2" stroke="#5e5e5e" stroke-width="0.7"/>
<line x1="324.57" y1="488.8" x2="324.57" y2="487.2" stroke="#5e5e5e" stroke-width="0.7"/>
<line x1="353.95" y1="488.8" x2="353.95" y2="487.2" stroke="#5e5e5e" stroke-width="0.7"/>
<line x1="383.33" y1="488.8" x2="383.33" y2="487.2" stroke="#5e5e5e" stroke-width="0.7"/>
<line x1="412.71" y1="488.8" x2="412.71" y2="487.2" stroke="#5e5e5e" stroke-width="0.7"/>
<rect x="285.99" y="466.74" width="5.4" height="22.06" fill="#4020b9" stroke="#333" stroke-width="0.35" stroke-opacity="0.5"/>
<rect x="292.49" y="466.74" width="5.4" height="22.06" fill="#14c0b6" stroke="#333" stroke-width="0.35" stroke-opacity="0.5"/>
<rect x="298.99" y="466.74" width="5.4" height="22.06" fill="#fcfc06" stroke="#333" stroke-width="0.35" stroke-opacity="0.5"/>
<rect x="315.37" y="465.64" width="5.4" height="23.16" fill="#4020b9" stroke="#333" stroke-width="0.35" stroke-opacity="0.5"/>
<rect x="321.87" y="464.32" width="5.4" height="24.48" fill="#14c0b6" stroke="#333" stroke-width="0.35" stroke-opacity="0.5"/>
<rect x="328.37" y="460.35" width="5.4" height="28.45" fill="#fcfc06" stroke="#333" stroke-width="0.35" stroke-opacity="0.5"/>
<rect x="344.75" y="459.24" width="5.4" height="29.56" fill="#4020b9" stroke="#333" stroke-width="0.35" stroke-opacity="0.5"/>
<rect x="351.25" y="463.43" width="5.4" height="25.37" fill="#14c0b6" stroke="#333" stroke-width="0.35" stroke-opacity="0.5"/>
<rect x="357.75" y="457.26" width="5.4" height="31.54" fill="#fcfc06" stroke="#333" stroke-width="0.35" stroke-opacity="0.5"/>
<rect x="374.13" y="453.51" width="5.4" height="35.29" fill="#4020b9" stroke="#333" stroke-width="0.35" stroke-opacity="0.5"/>
<rect x="380.63" y="452.85" width="5.4" height="35.95" fill="#14c0b6" stroke="#333" stroke-width="0.35" stroke-opacity="0.5"/>
<rect x="387.13" y="428.36" width="5.4" height="60.44" fill="#fcfc06" stroke="#333" stroke-width="0.35" stroke-opacity="0.5"/>
<rect x="403.51" y="450.86" width="5.4" height="37.94" fill="#4020b9" stroke="#333" stroke-width="0.35" stroke-opacity="0.5"/>
<rect x="410.01" y="451.08" width="5.4" height="37.72" fill="#14c0b6" stroke="#333" stroke-width="0.35" stroke-opacity="0.5"/>
<rect x="416.51" y="420.20" width="5.4" height="68.60" fill="#fcfc06" stroke="#333" stroke-width="0.35" stroke-opacity="0.5"/>
<rect x="280.5" y="411.6" width="146.90" height="77.20" fill="none" stroke="#5e5e5e" stroke-width="1.05"/>
<line x1="280.5" y1="488.80" x2="282.1" y2="488.80" stroke="#5e5e5e" stroke-width="0.7"/>
<line x1="427.4" y1="488.80" x2="425.79999999999995" y2="488.80" stroke="#5e5e5e" stroke-width="0.7"/>
<text x="270.10" y="493.80" class="tk" text-anchor="middle">0</text>
<line x1="280.5" y1="477.77" x2="282.1" y2="477.77" stroke="#5e5e5e" stroke-width="0.7"/>
<line x1="427.4" y1="477.77" x2="425.79999999999995" y2="477.77" stroke="#5e5e5e" stroke-width="0.7"/>
<text x="270.10" y="483.57" class="tk" text-anchor="middle">0.5</text>
<line x1="280.5" y1="466.74" x2="282.1" y2="466.74" stroke="#5e5e5e" stroke-width="0.7"/>
<line x1="427.4" y1="466.74" x2="425.79999999999995" y2="466.74" stroke="#5e5e5e" stroke-width="0.7"/>
<text x="270.10" y="472.74" class="tk" text-anchor="middle">1</text>
<line x1="280.5" y1="455.71" x2="282.1" y2="455.71" stroke="#5e5e5e" stroke-width="0.7"/>
<line x1="427.4" y1="455.71" x2="425.79999999999995" y2="455.71" stroke="#5e5e5e" stroke-width="0.7"/>
<text x="270.10" y="461.71" class="tk" text-anchor="middle">1.5</text>
<line x1="280.5" y1="444.69" x2="282.1" y2="444.69" stroke="#5e5e5e" stroke-width="0.7"/>
<line x1="427.4" y1="444.69" x2="425.79999999999995" y2="444.69" stroke="#5e5e5e" stroke-width="0.7"/>
<text x="270.10" y="448.89" class="tk" text-anchor="middle">2</text>
<line x1="280.5" y1="433.66" x2="282.1" y2="433.66" stroke="#5e5e5e" stroke-width="0.7"/>
<line x1="427.4" y1="433.66" x2="425.79999999999995" y2="433.66" stroke="#5e5e5e" stroke-width="0.7"/>
<text x="270.10" y="438.66" class="tk" text-anchor="middle">2.5</text>
<line x1="280.5" y1="422.63" x2="282.1" y2="422.63" stroke="#5e5e5e" stroke-width="0.7"/>
<line x1="427.4" y1="422.63" x2="425.79999999999995" y2="422.63" stroke="#5e5e5e" stroke-width="0.7"/>
<text x="270.10" y="428.13" class="tk" text-anchor="middle">3</text>
<line x1="280.5" y1="411.60" x2="282.1" y2="411.60" stroke="#5e5e5e" stroke-width="0.7"/>
<line x1="427.4" y1="411.60" x2="425.79999999999995" y2="411.60" stroke="#5e5e5e" stroke-width="0.7"/>
<text x="270.10" y="416.20" class="tk" text-anchor="middle">3.5</text>
<line x1="295.19" y1="411.6" x2="295.19" y2="413.20000000000005" stroke="#5e5e5e" stroke-width="0.7"/>
<text x="291.59" y="502.20" class="tk">0</text>
<line x1="324.57" y1="411.6" x2="324.57" y2="413.20000000000005" stroke="#5e5e5e" stroke-width="0.7"/>
<text x="320.97" y="502.20" class="tk">10</text>
<line x1="353.95" y1="411.6" x2="353.95" y2="413.20000000000005" stroke="#5e5e5e" stroke-width="0.7"/>
<text x="350.35" y="502.20" class="tk">20</text>
<line x1="383.33" y1="411.6" x2="383.33" y2="413.20000000000005" stroke="#5e5e5e" stroke-width="0.7"/>
<text x="379.73" y="502.20" class="tk">30</text>
<line x1="412.71" y1="411.6" x2="412.71" y2="413.20000000000005" stroke="#5e5e5e" stroke-width="0.7"/>
<text x="409.11" y="502.20" class="tk">40</text>
<text x="306.00" y="512.80" class="xl">Short-circuited turns</text>
<text transform="translate(254.60,452.50) rotate(-90) scale(1,1.15)" class="yl" text-anchor="middle" textLength="77.5" lengthAdjust="spacingAndGlyphs">Normalized values</text>
<text x="6.0" y="26.9" class="rl">(a)</text>
<text transform="translate(25.4,68.35) rotate(-90) scale(1,1.1)" class="tq" text-anchor="middle" textLength="39.3" lengthAdjust="spacingAndGlyphs">0.00 Nm</text>
<text x="4.5" y="152.2" class="rl">(b)</text>
<text transform="translate(25.4,195.90) rotate(-90) scale(1,1.1)" class="tq" text-anchor="middle" textLength="39.3" lengthAdjust="spacingAndGlyphs">2.04 Nm</text>
<text x="6.6" y="277.8" class="rl">(<tspan dx="1.2">c</tspan><tspan dx="-0.4">)</tspan></text>
<text transform="translate(25.4,322.20) rotate(-90) scale(1,1.1)" class="tq" text-anchor="middle" textLength="39.3" lengthAdjust="spacingAndGlyphs">4.09 Nm</text>
<text x="6.6" y="403.5" class="rl">(d)</text>
<text transform="translate(25.4,449.30) rotate(-90) scale(1,1.1)" class="tq" text-anchor="middle" textLength="39.3" lengthAdjust="spacingAndGlyphs">6.13 Nm</text>
<text x="116" y="18.8" class="ti">Results for<tspan font-style="italic" dx="2.2">f</tspan><tspan font-size="10.5" dy="3.7" dx="1.7">L</tspan></text>
<text x="318.2" y="18.8" class="ti">Results for<tspan font-style="italic" dx="2.2">f</tspan><tspan font-size="10.5" dy="3.7" dx="2.4">R</tspan></text>
<rect x="75.5" y="524.5" width="335.8" height="20" fill="#fff" stroke="#555" stroke-width="1"/>
<rect x="90.5" y="529.4" width="28.0" height="9.2" fill="#4020b9" stroke="#333" stroke-width="0.5" stroke-opacity="0.6"/>
<text transform="translate(132.5,539.1) scale(1,1.08)" class="lg">SE</text>
<rect x="206.0" y="529.4" width="28.0" height="9.2" fill="#14c0b6" stroke="#333" stroke-width="0.5" stroke-opacity="0.6"/>
<text transform="translate(247.6,539.1) scale(1,1.08)" class="lg">RMS</text>
<rect x="308.5" y="529.4" width="28.0" height="9.2" fill="#fcfc06" stroke="#333" stroke-width="0.5" stroke-opacity="0.6"/>
<text transform="translate(350.6,539.1) scale(1,1.08)" class="lg" textLength="31" lengthAdjust="spacingAndGlyphs">Energy</text>
</svg>
</body></html>
